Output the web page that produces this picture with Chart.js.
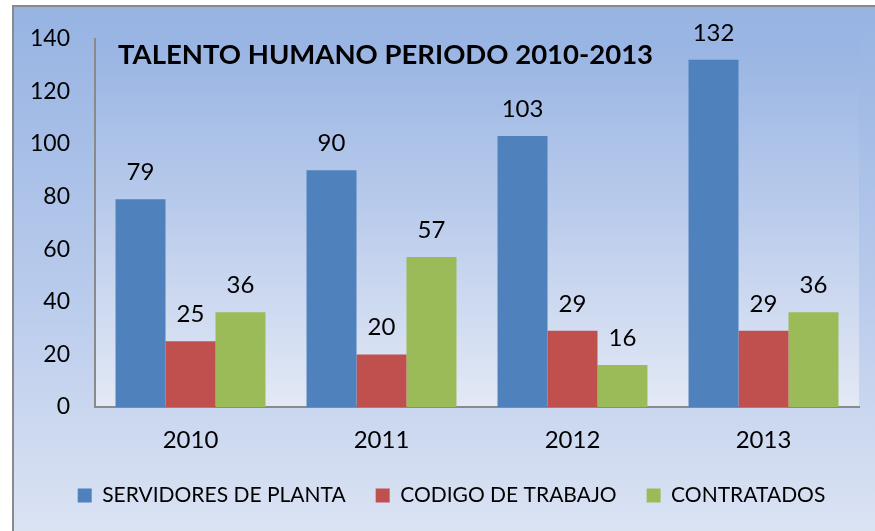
<!DOCTYPE html>
<html>
<head>
<meta charset="utf-8">
<script src="https://cdn.jsdelivr.net/npm/chart.js@4.4.0/dist/chart.umd.min.js"></script>
<style>
html,body{margin:0;padding:0;background:#ffffff;}
#wrap{position:relative;width:875px;height:531px;}
canvas{display:block;}
</style>
</head>
<body>
<div id="wrap"><canvas id="c" width="875" height="531"></canvas></div>
<script>
const categories = ["2010", "2011", "2012", "2013"];
const servidoresPlanta = [79, 90, 103, 132];
const codigoTrabajo = [25, 20, 29, 29];
const contratados = [36, 57, 16, 36];
const seriesNames = ["SERVIDORES DE PLANTA", "CODIGO DE TRABAJO", "CONTRATADOS"];
const chartTitle = "TALENTO HUMANO PERIODO 2010-2013";

const FONT = "Lato, 'Open Sans', sans-serif";

const backgroundPlugin = {
  id: 'bgPlugin',
  afterLayout(chart) {
    if (chart.legend) {
      chart.legend.left += 22;
      chart.legend.right += 22;
    }
  },
  beforeDraw(chart) {
    const ctx = chart.ctx;
    const w = chart.width, h = chart.height;
    ctx.save();
    const g = ctx.createLinearGradient(0, 5, 0, h);
    g.addColorStop(0, '#96b3e2');
    g.addColorStop(0.55, '#b9cbec');
    g.addColorStop(1, '#dbe3f3');
    ctx.fillStyle = g;
    ctx.fillRect(12, 5, w - 12, h - 5);
    ctx.strokeStyle = '#8a8a8a';
    ctx.lineWidth = 2;
    ctx.beginPath();
    ctx.moveTo(13, h);
    ctx.lineTo(13, 6);
    ctx.lineTo(w, 6);
    ctx.stroke();
    const a = chart.chartArea;
    const g2 = ctx.createLinearGradient(0, a.top, 0, a.bottom);
    g2.addColorStop(0, '#98b4e3');
    g2.addColorStop(0.5, '#bccdec');
    g2.addColorStop(1, '#e3e9f5');
    ctx.fillStyle = g2;
    ctx.fillRect(a.left, a.top, a.right - a.left, a.bottom - a.top);
    ctx.restore();
  },
  afterDraw(chart) {
    const ctx = chart.ctx;
    ctx.save();
    ctx.font = "bold 27.5px " + FONT;
    ctx.fillStyle = '#000000';
    ctx.textBaseline = 'alphabetic';
    ctx.textAlign = 'left';
    ctx.fillText(chartTitle, 118, 64);
    ctx.font = "24px " + FONT;
    ctx.textAlign = 'center';
    chart.data.datasets.forEach((ds, i) => {
      const meta = chart.getDatasetMeta(i);
      meta.data.forEach((bar, j) => {
        ctx.fillText(String(ds.data[j]), bar.x, bar.y - 19);
      });
    });
    ctx.restore();
  }
};

new Chart(document.getElementById('c'), {
  type: 'bar',
  data: {
    labels: categories,
    datasets: [
      { label: seriesNames[0], data: servidoresPlanta, backgroundColor: '#4f81bd' },
      { label: seriesNames[1], data: codigoTrabajo, backgroundColor: '#c0504d' },
      { label: seriesNames[2], data: contratados, backgroundColor: '#9bbb59' }
    ]
  },
  options: {
    responsive: false,
    animation: false,
    devicePixelRatio: 1,
    layout: { padding: { left: 0, right: 16, top: 32, bottom: 15 } },
    datasets: { bar: { categoryPercentage: 0.785, barPercentage: 1.0 } },
    plugins: {
      legend: {
        position: 'bottom',
        labels: {
          font: { family: FONT, size: 21 },
          color: '#000000',
          boxWidth: 14,
          boxHeight: 14,
          padding: 30
        }
      },
      tooltip: { enabled: false },
      title: { display: false }
    },
    scales: {
      x: {
        grid: { display: false, drawTicks: false },
        border: { display: true, color: '#8a8a8a', width: 2 },
        ticks: { font: { family: FONT, size: 24 }, color: '#000000', padding: 19 },
        afterFit(scale) { scale.height = 48; }
      },
      y: {
        min: 0, max: 140,
        grid: { display: false, drawTicks: false },
        border: { display: true, color: '#8a8a8a', width: 2 },
        ticks: { stepSize: 20, font: { family: FONT, size: 23 }, color: '#000000', padding: 25 },
        afterFit(scale) { scale.width = 95; }
      }
    }
  },
  plugins: [backgroundPlugin]
});
</script>
</body>
</html>
